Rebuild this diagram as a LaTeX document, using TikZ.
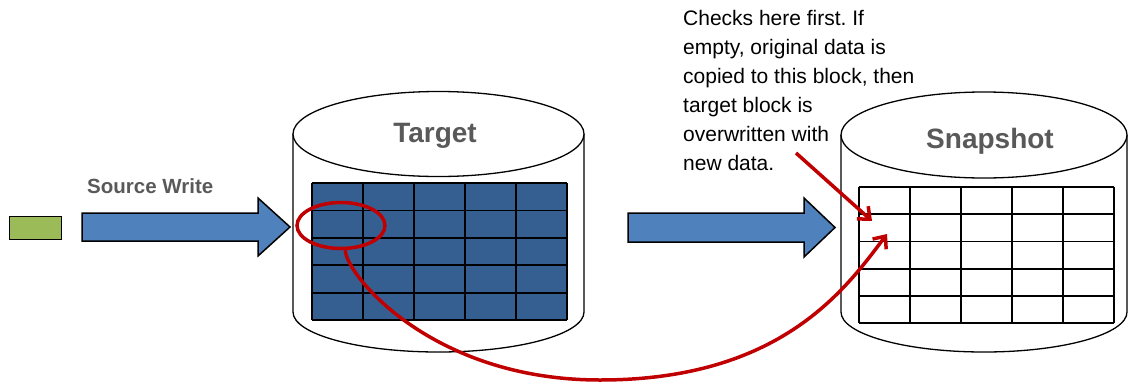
\documentclass[tikz,border=0pt]{standalone}
\usepackage{fontspec}
\setmainfont{Liberation Sans}
\usetikzlibrary{arrows.meta,shapes.geometric}
\definecolor{cellblue}{HTML}{365F91}
\definecolor{arrowblue}{HTML}{4F81BD}
\definecolor{srcgreen}{HTML}{9BBB59}
\definecolor{labelgray}{HTML}{595959}
\definecolor{markred}{HTML}{C00000}
\frenchspacing

\begin{document}
\begin{tikzpicture}[x=1pt,y=-1pt,>={Straight Barb[length=10pt,width=17pt]},
 drum/.style={draw=black,line width=1.3pt,fill=white},
 gridline/.style={draw=black,line width=1.8pt},
 blockarrow/.style={draw=black,line width=1.5pt,fill=arrowblue},
 redline/.style={draw=markred,line width=3.5pt},
 title/.style={font=\fontsize{28}{30}\selectfont\bfseries,text=labelgray,inner sep=0}]
 \useasboundingbox (0,0) rectangle (1129,383);
 % source block and write arrow
 \node[draw,fill=srcgreen,line width=1.5pt,minimum width=52pt,minimum height=23pt,inner sep=0] (srcblock) at (35.5,228) {};
 \node[anchor=base west,font=\fontsize{20.5}{24}\selectfont\bfseries,text=labelgray,inner sep=0] (srclabel) at (87,193) {Source Write};
 \filldraw[blockarrow] (82,213)--(258,213)--(258,198)--(290,227)--(258,256)--(258,241)--(82,241)--cycle;
 \filldraw[blockarrow] (628,213)--(804,213)--(804,198)--(835,227.5)--(804,257)--(804,242)--(628,242)--cycle;
 % target volume
 \filldraw[drum] (293,134)--(293,312) arc[start angle=180,end angle=360,x radius=145.5pt,y radius=40pt]--(584,134);
 \filldraw[drum] (438.5,134) ellipse[x radius=145.5pt,y radius=42.5pt];
 \node[title,anchor=base] (target) at (435,142) {Target};
 \fill[cellblue] (312,183) rectangle (567,320);
 \foreach \i in {0,...,5} \draw[gridline] (312+51*\i,183)--(312+51*\i,320);
 \foreach \j in {0,...,5} \draw[gridline] (312,183+27.4*\j)--(567,183+27.4*\j);
 % snapshot volume
 \filldraw[drum] (841,135)--(841,312) arc[start angle=180,end angle=360,x radius=143pt,y radius=40pt]--(1127,135);
 \filldraw[drum] (984,135) ellipse[x radius=143pt,y radius=43pt];
 \node[title,anchor=base] (snapshot) at (990,148) {Snapshot};
 \foreach \i in {0,...,5} \draw[gridline] (859+51*\i,187)--(859+51*\i,323);
 \foreach \j in {0,...,5} \draw[gridline] (859,187+27.2*\j)--(1114,187+27.2*\j);
 % note and copy-on-write marks
 \node[anchor=base west,align=left,inner sep=0,font=\fontsize{21}{29}\selectfont] (note) at (683,170)
  {Checks here first. If\\empty, original data is\\copied to this block, then\\target block is\\overwritten with\\new data.};
 \node[ellipse,draw=markred,line width=3.5pt,minimum width=88pt,minimum height=46pt,inner sep=0] (hit) at (341,225.5) {};
 \coordinate (callout) at (796,153);
 \coordinate (firsthit) at (872,221);
 \coordinate (copyslot) at (887,234);
 \draw[redline,->] (callout)--(firsthit);
 \draw[redline,->] (hit.-80) .. controls (345,273) and (430,380) .. (600,380) .. controls (780,380) and (845,290) .. (copyslot);
\end{tikzpicture}
\end{document}
